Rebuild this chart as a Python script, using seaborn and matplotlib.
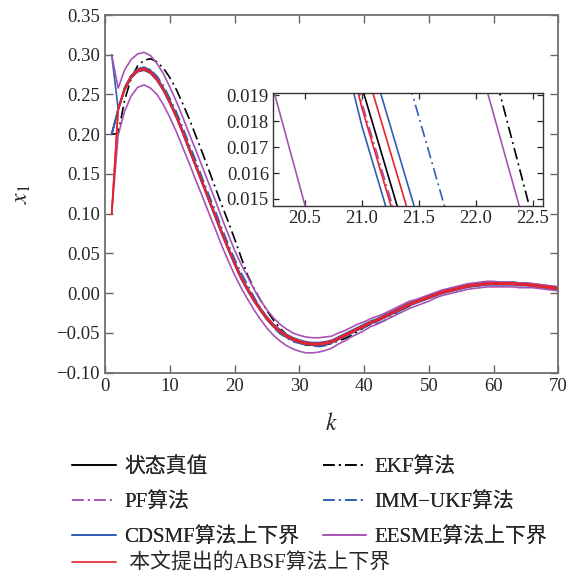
import numpy as np
import pandas as pd
import matplotlib
matplotlib.use("Agg")
import matplotlib.pyplot as plt
import seaborn as sns

# time steps
k = np.arange(1, 71)

# true state x1
truth = [0.200, 0.231, 0.257, 0.272, 0.280, 0.282, 0.278, 0.269, 0.256, 0.240,
         0.222, 0.202, 0.181, 0.160, 0.139, 0.118, 0.097, 0.076, 0.056, 0.037,
         0.0193, 0.0045, -0.009, -0.021, -0.032, -0.041, -0.048, -0.054, -0.058, -0.061,
         -0.063, -0.064, -0.064, -0.063, -0.061, -0.057, -0.053, -0.049, -0.045, -0.041,
         -0.037, -0.034, -0.030, -0.026, -0.022, -0.018, -0.014, -0.011, -0.008, -0.005,
         -0.002, 0.001, 0.003, 0.005, 0.007, 0.009, 0.010, 0.011, 0.012, 0.012,
         0.012, 0.012, 0.012, 0.011, 0.011, 0.010, 0.009, 0.008, 0.007, 0.006]

# EKF estimate
ekf = [0.200, 0.201, 0.243, 0.270, 0.286, 0.293, 0.295, 0.291, 0.283, 0.271,
       0.256, 0.238, 0.219, 0.198, 0.177, 0.155, 0.133, 0.111, 0.090, 0.068,
       0.045, 0.0226, 0.0058, -0.009, -0.022, -0.034, -0.044, -0.052, -0.058, -0.062,
       -0.065, -0.066, -0.066, -0.065, -0.063, -0.060, -0.057, -0.053, -0.048, -0.043,
       -0.039, -0.034, -0.031, -0.027, -0.024, -0.020, -0.016, -0.012, -0.009, -0.006,
       -0.003, 0.000, 0.003, 0.005, 0.007, 0.009, 0.010, 0.011, 0.012, 0.013,
       0.013, 0.013, 0.013, 0.012, 0.012, 0.011, 0.010, 0.009, 0.008, 0.007]

# deviation of PF / IMM-UKF estimates from the true state
pf_dev = [0.000, -0.001, 0.000, -0.001, 0.000, -0.001, -0.001, 0.000, -0.001, -0.001,
          0.000, -0.001, -0.001, 0.000, -0.001, -0.001, -0.0005, -0.001, -0.0005, -0.0008,
          -0.0006, -0.0006, -0.001, 0.000, -0.001, -0.001, 0.000, -0.001, 0.000, -0.001,
          -0.001, 0.000, -0.001, 0.000, 0.000, -0.001, 0.000, 0.000, -0.001, 0.000,
          0.000, -0.001, 0.000, 0.000, 0.001, 0.000, 0.000, -0.001, 0.000, 0.000,
          0.000, 0.000, 0.001, 0.000, 0.000, 0.000, 0.000, 0.000, 0.000, 0.000,
          0.000, 0.000, 0.000, 0.000, 0.000, 0.000, 0.000, 0.000, 0.000, 0.000]
imm_dev = [0.000, 0.001, 0.001, 0.002, 0.002, 0.002, 0.003, 0.004, 0.005, 0.005,
           0.006, 0.006, 0.006, 0.007, 0.006, 0.006, 0.007, 0.006, 0.006, 0.006,
           0.0065, 0.006, 0.004, 0.002, 0.000, -0.002, -0.003, -0.002, -0.003, -0.002,
           -0.002, -0.002, -0.003, -0.003, -0.002, -0.001, -0.001, 0.000, -0.001, -0.001,
           -0.002, -0.004, -0.005, -0.004, -0.003, -0.001, 0.000, 0.001, 0.000, 0.001,
           0.001, 0.000, 0.001, -0.001, 0.000, 0.001, 0.000, 0.001, 0.001, 0.000,
           0.001, 0.000, 0.000, 0.001, 0.000, 0.001, 0.000, 0.001, 0.000, 0.000]

# bound half-widths (upper: added to truth, lower: subtracted)
cdsmf_up = [0.100, 0.001, 0.002, 0.002, 0.002, 0.0025, 0.0025, 0.0025, 0.0025, 0.0025,
            0.0022, 0.0022, 0.0022, 0.0022, 0.0022, 0.0022, 0.0022, 0.0022, 0.0022, 0.0022,
            0.0022, 0.0022, 0.0022, 0.0022, 0.0022, 0.0022, 0.0022, 0.0022, 0.0022, 0.0022,
            0.002, 0.002, 0.002, 0.002, 0.002, 0.002, 0.002, 0.002, 0.002, 0.002,
            0.002, 0.002, 0.002, 0.002, 0.002, 0.002, 0.002, 0.002, 0.002, 0.002,
            0.002, 0.002, 0.002, 0.002, 0.002, 0.002, 0.002, 0.002, 0.002, 0.002,
            0.002, 0.002, 0.002, 0.002, 0.002, 0.002, 0.002, 0.002, 0.002, 0.002]
cdsmf_low = [0.000, 0.000, 0.0015, 0.0015, 0.0015, 0.0015, 0.0015, 0.0015, 0.0015, 0.0015,
             0.0015, 0.0015, 0.0015, 0.0015, 0.0015, 0.0015, 0.0015, 0.0015, 0.0015, 0.0015,
             0.0015, 0.0015, 0.0015, 0.0015, 0.0015, 0.0015, 0.0015, 0.0015, 0.0015, 0.0015,
             0.0015, 0.0015, 0.0015, 0.0015, 0.0015, 0.0015, 0.0015, 0.0015, 0.0015, 0.0015,
             0.0015, 0.0015, 0.0015, 0.0015, 0.0015, 0.0015, 0.0015, 0.0015, 0.0015, 0.0015,
             0.0015, 0.0015, 0.0015, 0.0015, 0.0015, 0.0015, 0.0015, 0.0015, 0.0015, 0.0015,
             0.0015, 0.0015, 0.0015, 0.0015, 0.0015, 0.0015, 0.0015, 0.0015, 0.0015, 0.0015]
eesme_up = [0.100, 0.027, 0.024, 0.022, 0.021, 0.021, 0.021, 0.020, 0.020, 0.019,
            0.019, 0.019, 0.019, 0.020, 0.020, 0.020, 0.020, 0.019, 0.018, 0.017,
            0.017, 0.0162, 0.014, 0.012, 0.011, 0.010, 0.009, 0.009, 0.008, 0.008,
            0.008, 0.008, 0.008, 0.008, 0.007, 0.007, 0.006, 0.006, 0.006, 0.005,
            0.005, 0.005, 0.004, 0.004, 0.004, 0.004, 0.004, 0.003, 0.003, 0.003,
            0.003, 0.003, 0.003, 0.003, 0.003, 0.003, 0.003, 0.003, 0.003, 0.003,
            0.002, 0.002, 0.002, 0.002, 0.002, 0.002, 0.002, 0.002, 0.002, 0.002]
eesme_low = [0.100, 0.032, 0.028, 0.024, 0.021, 0.020, 0.020, 0.019, 0.019, 0.019,
             0.019, 0.019, 0.018, 0.018, 0.017, 0.017, 0.016, 0.016, 0.015, 0.0142,
             0.0126, 0.012, 0.012, 0.012, 0.012, 0.012, 0.012, 0.012, 0.012, 0.012,
             0.012, 0.011, 0.010, 0.009, 0.008, 0.007, 0.007, 0.006, 0.006, 0.006,
             0.005, 0.005, 0.005, 0.005, 0.005, 0.005, 0.005, 0.005, 0.005, 0.005,
             0.004, 0.004, 0.004, 0.004, 0.004, 0.004, 0.004, 0.004, 0.004, 0.004,
             0.004, 0.004, 0.004, 0.004, 0.004, 0.003, 0.003, 0.003, 0.003, 0.003]
absf_up = [-0.100, 0.001, 0.001, 0.001, 0.001, 0.001, 0.001, 0.001, 0.001, 0.001,
           0.0012, 0.0012, 0.0012, 0.0012, 0.0012, 0.0012, 0.0012, 0.0012, 0.0012, 0.0012,
           0.0012, 0.0012, 0.0012, 0.0012, 0.0012, 0.0012, 0.0012, 0.0012, 0.0012, 0.0012,
           0.001, 0.001, 0.001, 0.001, 0.001, 0.001, 0.001, 0.001, 0.001, 0.001,
           0.001, 0.001, 0.001, 0.001, 0.001, 0.001, 0.001, 0.001, 0.001, 0.001,
           0.001, 0.001, 0.001, 0.001, 0.001, 0.001, 0.001, 0.001, 0.001, 0.001,
           0.001, 0.001, 0.001, 0.001, 0.001, 0.001, 0.001, 0.001, 0.001, 0.001]
absf_low = [0.100, 0.000, 0.0008, 0.0008, 0.0008, 0.0008, 0.0008, 0.0008, 0.0008, 0.0008,
            0.0008, 0.0008, 0.0008, 0.0008, 0.0008, 0.0008, 0.0008, 0.0008, 0.0008, 0.0008,
            0.0008, 0.0008, 0.0008, 0.0008, 0.0008, 0.0008, 0.0008, 0.0008, 0.0008, 0.0008,
            0.0008, 0.0008, 0.0008, 0.0008, 0.0008, 0.0008, 0.0008, 0.0008, 0.0008, 0.0008,
            0.0008, 0.0008, 0.0008, 0.0008, 0.0008, 0.0008, 0.0008, 0.0008, 0.0008, 0.0008,
            0.0008, 0.0008, 0.0008, 0.0008, 0.0008, 0.0008, 0.0008, 0.0008, 0.0008, 0.0008,
            0.0008, 0.0008, 0.0008, 0.0008, 0.0008, 0.0008, 0.0008, 0.0008, 0.0008, 0.0008]

labels = ["状态真值", "EKF算法", "PF算法", "IMM\u2212UKF算法",
          "CDSMF算法上下界", "EESME算法上下界", " 本文提出的ABSF算法上下界"]
x_ticks = [0, 10, 20, 30, 40, 50, 60, 70]
y_ticks = [-0.10, -0.05, 0.00, 0.05, 0.10, 0.15, 0.20, 0.25, 0.30, 0.35]
inset_x_ticks = [20.5, 21.0, 21.5, 22.0, 22.5]
inset_y_ticks = [0.015, 0.016, 0.017, 0.018, 0.019]

sns.set_style("ticks")
plt.rcParams["font.family"] = ["Liberation Serif", "Noto Sans CJK SC"]
plt.rcParams["mathtext.fontset"] = "stix"
plt.rcParams["axes.unicode_minus"] = True

t = np.array(truth)
df = pd.DataFrame({
    "k": k,
    "truth": t,
    "ekf": ekf,
    "pf": t + np.array(pf_dev),
    "imm": t + np.array(imm_dev),
    "cd_up": t + np.array(cdsmf_up),
    "cd_low": t - np.array(cdsmf_low),
    "ee_up": t + np.array(eesme_up),
    "ee_low": t - np.array(eesme_low),
    "ab_up": t + np.array(absf_up),
    "ab_low": t - np.array(absf_low),
})

BLUE = "#2f5fb3"
RED = "#e8232b"
PURP = "#a653b4"
dashdot = (0, (7, 2.5, 1.2, 2.5))

styles = [
    ("truth", "k", "-", 0),
    ("ekf", "k", dashdot, 1),
    ("pf", PURP, dashdot, 2),
    ("imm", BLUE, dashdot, 3),
    ("cd_up", BLUE, "-", 4),
    ("cd_low", BLUE, "-", 4),
    ("ee_up", PURP, "-", 5),
    ("ee_low", PURP, "-", 5),
    ("ab_up", RED, "-", 6),
    ("ab_low", RED, "-", 6),
]

fig = plt.figure(figsize=(5.75, 5.77), dpi=100)
ax = fig.add_axes([0.183, 0.354, 0.788, 0.620])
axin = fig.add_axes([0.475, 0.643, 0.4696, 0.196])

handles = {}
for a in (ax, axin):
    for col, c, ls, li in styles:
        sns.lineplot(data=df, x="k", y=col, ax=a, color=c, linestyle=ls,
                     linewidth=1.2, estimator=None, sort=False)
        if a is ax and li not in handles:
            handles[li] = a.lines[-1]
    if a.get_legend() is not None:
        a.get_legend().remove()
    a.set_xlabel("")
    a.set_ylabel("")

# main axes
ax.set_xlim(0, 70)
ax.set_ylim(-0.10, 0.35)
ax.set_xticks(x_ticks)
ax.set_yticks(y_ticks)
ax.set_yticklabels([f"{v:.2f}".replace("-", "\u2212") for v in y_ticks])
ax.tick_params(direction="in", top=True, right=True, length=5.5, width=1,
               color="#666666", labelsize=13.5, pad=4)
for s in ax.spines.values():
    s.set_color("#707070")
    s.set_linewidth(1.3)
ax.set_xlabel("$k$", fontsize=17, labelpad=13)
ax.set_ylabel("$x_1$", fontsize=17, labelpad=17)

# zoomed inset
axin.set_xlim(20.22, 22.59)
axin.set_ylim(0.01473, 0.01909)
axin.set_xticks(inset_x_ticks)
axin.set_yticks(inset_y_ticks)
axin.set_xticklabels([f"{v:.1f}" for v in inset_x_ticks])
axin.set_yticklabels([f"{v:.3f}" for v in inset_y_ticks])
axin.tick_params(direction="in", top=True, right=True, length=4, width=0.9,
                 labelsize=13.5, pad=3)
for s in axin.spines.values():
    s.set_color("#333333")
    s.set_linewidth(1.0)

# legend, row-major order in two columns plus a last row
order = [0, 2, 4, 1, 3, 5]
leg1 = fig.legend([handles[i] for i in order], [labels[i] for i in order],
                  loc="upper left", bbox_to_anchor=(0.125, 0.207), ncol=2,
                  frameon=False, fontsize=15, handlelength=2.1,
                  handletextpad=0.4, labelspacing=0.72, columnspacing=1.13,
                  borderpad=0, borderaxespad=0)
leg2 = fig.legend([handles[6]], [labels[6]], loc="upper left",
                  bbox_to_anchor=(0.125, 0.040), frameon=False, fontsize=15,
                  handlelength=2.1, handletextpad=0.4, borderpad=0,
                  borderaxespad=0)
fig.add_artist(leg1)

fig.savefig("out.png", dpi=100)
